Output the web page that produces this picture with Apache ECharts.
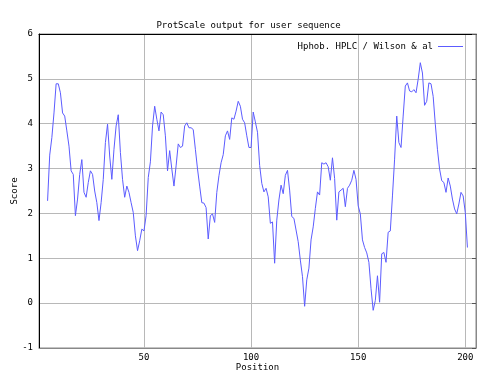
<!DOCTYPE html>
<html>
<head>
<meta charset="utf-8">
<script src="https://cdn.jsdelivr.net/npm/echarts@6/dist/echarts.min.js"></script>
<style>
  html, body { margin: 0; padding: 0; background: #fff; }
  #chart { width: 497px; height: 381px; }
</style>
</head>
<body>
<div id="chart"></div>
<script>
// ProtScale profile, window positions 5..201 of a 205-residue sequence
var firstPosition = 5;
var sequenceLength = 205;
var scores = [
  2.28, 3.30, 3.69, 4.24, 4.89, 4.89, 4.69, 4.24, 4.17, 3.84,
  3.50, 2.95, 2.87, 1.95, 2.32, 2.87, 3.20, 2.47, 2.36, 2.69,
  2.95, 2.87, 2.50, 2.24, 1.84, 2.24, 2.76, 3.58, 3.99, 3.28,
  2.76, 3.43, 3.95, 4.20, 3.36, 2.76, 2.36, 2.61, 2.47, 2.24,
  2.02, 1.50, 1.17, 1.39, 1.65, 1.61, 1.95, 2.80, 3.15, 3.95,
  4.39, 4.10, 3.84, 4.26, 4.20, 3.73, 2.95, 3.40, 2.99, 2.61,
  3.06, 3.55, 3.47, 3.50, 3.95, 4.02, 3.91, 3.91, 3.87, 3.43,
  2.99, 2.61, 2.24, 2.23, 2.13, 1.43, 1.95, 1.99, 1.80, 2.47,
  2.84, 3.13, 3.31, 3.73, 3.84, 3.65, 4.13, 4.10, 4.28, 4.50,
  4.39, 4.10, 4.02, 3.73, 3.47, 3.47, 4.26, 4.04, 3.81, 3.07,
  2.67, 2.48, 2.56, 2.37, 1.78, 1.81, 0.89, 1.85, 2.30, 2.63,
  2.44, 2.85, 2.96, 2.52, 1.93, 1.89, 1.63, 1.37, 0.96, 0.59,
  -0.07, 0.52, 0.78, 1.41, 1.70, 2.11, 2.48, 2.41, 3.13, 3.10,
  3.13, 3.04, 2.74, 3.24, 2.78, 1.85, 2.48, 2.52, 2.56, 2.15,
  2.56, 2.63, 2.74, 2.96, 2.76, 2.17, 1.99, 1.41, 1.24, 1.12,
  0.91, 0.32, -0.16, 0.06, 0.61, 0.02, 1.10, 1.13, 0.91, 1.58,
  1.61, 2.39, 3.21, 4.17, 3.58, 3.47, 4.17, 4.84, 4.91, 4.73,
  4.71, 4.76, 4.69, 4.99, 5.36, 5.13, 4.41, 4.50, 4.91, 4.89,
  4.61, 3.99, 3.43, 2.99, 2.73, 2.69, 2.47, 2.79, 2.61, 2.32,
  2.10, 1.99, 2.21, 2.47, 2.39, 2.02, 1.24
];
var seriesName = 'Hphob. HPLC / Wilson & al';
var titleText = 'ProtScale output for user sequence';

var font = 'DejaVu Sans Mono';
var gridColor = '#b8b8b8';
var lineColor = '#5c5cff';

var points = scores.map(function (v, i) { return [firstPosition + i, v]; });

var chart = echarts.init(document.getElementById('chart'));
chart.setOption({
  animation: false,
  backgroundColor: '#fff',
  title: {
    text: titleText,
    left: 'center',
    top: 16,
    textStyle: { fontFamily: font, fontSize: 9, fontWeight: 'normal', color: '#000' }
  },
  legend: {
    right: 29,
    top: 37,
    align: 'right',
    itemWidth: 25,
    itemHeight: 1,
    icon: 'rect',
    textStyle: { fontFamily: font, fontSize: 9, color: '#000' },
    data: [{ name: seriesName, itemStyle: { color: lineColor } }]
  },
  grid: {
    left: 39, right: 21, top: 34, bottom: 33,
    outerBoundsMode: 'none',
    containLabel: false,
    show: true, borderColor: '#888', borderWidth: 1
  },
  xAxis: [{
    type: 'value',
    min: 1,
    max: sequenceLength,
    splitNumber: 5,
    name: 'Position',
    nameLocation: 'middle',
    nameGap: 15,
    nameMoveOverlap: false,
    nameTextStyle: { fontFamily: font, fontSize: 9, color: '#000' },
    axisLine: { show: true, onZero: false, lineStyle: { color: '#888' } },
    axisTick: { show: false },
    axisLabel: {
      showMinLabel: false, showMaxLabel: false, margin: 5,
      fontFamily: font, fontSize: 9, color: '#000'
    },
    splitLine: { show: true, lineStyle: { color: gridColor, width: 1 } }
  }, {
    type: 'value',
    position: 'top',
    min: 1,
    max: sequenceLength,
    axisLine: { show: true, onZero: false, lineStyle: { color: '#000' } },
    axisTick: { show: false },
    axisLabel: { show: false },
    splitLine: { show: false }
  }],
  yAxis: [{
    type: 'value',
    min: -1,
    max: 6,
    interval: 1,
    name: 'Score',
    nameLocation: 'middle',
    nameRotate: 90,
    nameGap: 20,
    nameMoveOverlap: false,
    nameTextStyle: { fontFamily: font, fontSize: 9, color: '#000' },
    axisLine: { show: true, onZero: false, lineStyle: { color: '#000' } },
    axisTick: { show: false },
    axisLabel: { margin: 6, fontFamily: font, fontSize: 9, color: '#000' },
    splitLine: { show: true, lineStyle: { color: gridColor, width: 1 } }
  }, {
    type: 'value',
    position: 'right',
    min: -1,
    max: 6,
    interval: 1,
    axisLine: { show: true, onZero: false, lineStyle: { color: '#888' } },
    axisTick: { show: true, inside: true, length: 4, lineStyle: { color: '#555' } },
    axisLabel: { show: false },
    splitLine: { show: false }
  }],
  series: [{
    name: seriesName,
    type: 'line',
    data: points,
    showSymbol: false,
    symbol: 'none',
    lineStyle: { color: lineColor, width: 1 },
    itemStyle: { color: lineColor }
  }]
});
</script>
</body>
</html>
